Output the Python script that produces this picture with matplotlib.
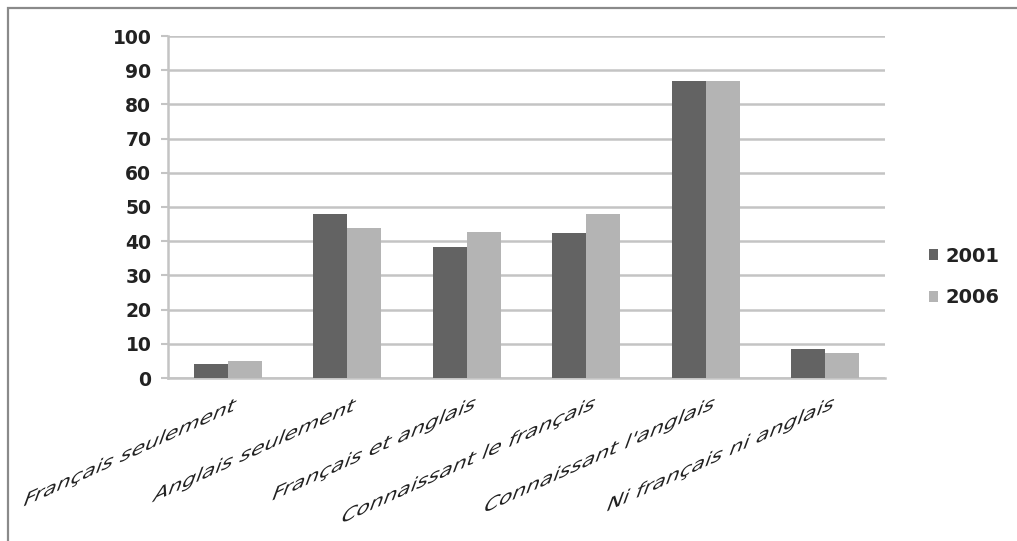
import matplotlib
matplotlib.use("Agg")
import matplotlib.pyplot as plt
import numpy as np
from matplotlib.patches import Rectangle, PathPatch
from matplotlib.textpath import TextPath
from matplotlib.font_manager import FontProperties
from matplotlib.transforms import Affine2D, IdentityTransform

categories = ["Français seulement", "Anglais seulement", "Français et anglais",
              "Connaissant le français", "Connaissant l'anglais", "Ni français ni anglais"]
series_names = ["2001", "2006"]
values_2001 = [4, 48, 38.3, 42.4, 86.7, 8.6]
values_2006 = [4.9, 43.8, 42.8, 48, 86.7, 7.3]
yticks = list(range(0, 101, 10))

dark = "#636363"
light = "#b4b4b4"
grid = "#c4c4c4"
text_color = "#222222"

W, H = 1017, 541
fig = plt.figure(figsize=(W / 100, H / 100), dpi=100)
fig.patch.set_facecolor("white")
fig.patches.append(Rectangle((8 / W, -0.1), 1.2, (533 / H) + 0.1,
                             transform=fig.transFigure, fill=False,
                             edgecolor="#8a8a8a", linewidth=1.6, zorder=0))

ax = fig.add_axes([168 / W, 163 / H, 717 / W, 342 / H])
x = np.arange(len(categories))
w = 0.285
ax.bar(x - w / 2, values_2001, width=w, color=dark, label=series_names[0], zorder=3)
ax.bar(x + w / 2, values_2006, width=w, color=light, label=series_names[1], zorder=3)

ax.set_xlim(-0.5, len(categories) - 0.5)
ax.set_ylim(0, 100)
ax.set_yticks(yticks)
ax.set_yticklabels([str(t) for t in yticks], fontsize=13.5, fontweight="bold", color=text_color)
ax.yaxis.grid(True, color=grid, linewidth=1.8, zorder=0)
ax.set_axisbelow(True)
for s in ["top", "right"]:
    ax.spines[s].set_visible(False)
for s in ["left", "bottom"]:
    ax.spines[s].set_color(grid)
    ax.spines[s].set_linewidth(1.8)
ax.tick_params(axis="y", length=5, width=1.5, color=grid, pad=7)
ax.tick_params(axis="x", length=0)
ax.set_xticks(x)
ax.set_xticklabels([])

# Slanted category labels: glyph outlines with the baseline at ~24 deg and
# upright strokes leaning at ~70 deg, anchored by their top-right corner.
base_ang, up_ang, stretch = np.deg2rad(24.5), np.deg2rad(70), 1.14
skew = Affine2D(np.array([[stretch * np.cos(base_ang), np.cos(up_ang), 0],
                          [stretch * np.sin(base_ang), np.sin(up_ang), 0],
                          [0, 0, 1]]))
fp = FontProperties(family="DejaVu Sans")
fig.canvas.draw()
for xi, lab in zip(x, categories):
    tp = TextPath((0, 0), lab, size=21, prop=fp)
    path = skew.transform_path(tp)
    ext = path.get_extents()
    cx, _ = ax.transData.transform((xi, 0))
    tx, ty = cx + 9, H - 399
    path = Affine2D().translate(tx - ext.x1, ty - ext.y1).transform_path(path)
    fig.patches.append(PathPatch(path, transform=IdentityTransform(),
                                 facecolor=text_color, edgecolor="none", zorder=5))

leg = fig.legend(loc="center left", bbox_to_anchor=(919 / W, (H - 277) / H),
                 frameon=False, handlelength=0.5, handleheight=0.5,
                 handletextpad=0.35, labelspacing=1.15, borderpad=0,
                 prop={"weight": "bold", "size": 14})
for t in leg.get_texts():
    t.set_color(text_color)

fig.savefig("out.png", dpi=100, facecolor="white")
